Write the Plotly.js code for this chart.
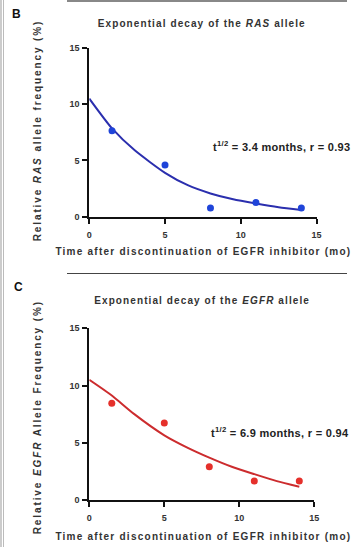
<!DOCTYPE html>
<html>
<head>
<meta charset="utf-8">
<script src="https://cdn.plot.ly/plotly-3.0.1.min.js"></script>
<style>
html,body{margin:0;padding:0;background:#fff;}
#chart{width:360px;height:547px;}
</style>
</head>
<body>
<div id="chart"></div>
<script>
// ---- Data ----
var rasTime = [1.5, 5, 8, 11, 14];
var rasFreq = [7.65, 4.6, 0.77, 1.27, 0.77];
var rasFitTime = [0, 1.5, 3, 5, 6.5, 8, 9.5, 11, 12.5, 14];
var rasFitFreq = [10.5, 7.85, 5.9, 3.9, 2.8, 2.07, 1.55, 1.18, 0.85, 0.6];

var egfrTime = [1.5, 5, 8, 11, 14];
var egfrFreq = [8.46, 6.72, 2.9, 1.65, 1.65];
var egfrFitTime = [0, 1.5, 3, 5, 6.5, 8, 9.5, 11, 12.5, 14];
var egfrFitFreq = [10.5, 9.13, 7.5, 5.65, 4.6, 3.7, 2.9, 2.26, 1.65, 1.16];

var tickValues = [0, 5, 10, 15];
var tickLabels = ['0', '5', '10', '15'];

var W = 360, H = 547;
function px(x){ return x / W; }
function py(y){ return 1 - y / H; }

var blueMarker = '#1f44d9', blueLine = '#2b2fae';
var redMarker = '#e5302b', redLine = '#cc2c2e';
var textCol = '#333333';
var fontFam = 'Liberation Sans, Arial, sans-serif';

var traces = [
  {x: rasFitTime, y: rasFitFreq, xaxis: 'x', yaxis: 'y', mode: 'lines',
   line: {color: blueLine, width: 2, shape: 'spline', smoothing: 0.6}, hoverinfo: 'skip', cliponaxis: false},
  {x: rasTime, y: rasFreq, xaxis: 'x', yaxis: 'y', mode: 'markers',
   marker: {color: blueMarker, size: 7}, cliponaxis: false},
  {x: egfrFitTime, y: egfrFitFreq, xaxis: 'x2', yaxis: 'y2', mode: 'lines',
   line: {color: redLine, width: 2, shape: 'spline', smoothing: 0.6}, hoverinfo: 'skip', cliponaxis: false},
  {x: egfrTime, y: egfrFreq, xaxis: 'x2', yaxis: 'y2', mode: 'markers',
   marker: {color: redMarker, size: 7}, cliponaxis: false}
];

function axisBase(){
  return {
    range: [0, 15], tickmode: 'array', tickvals: tickValues, ticktext: tickLabels,
    showline: true, linecolor: '#111', linewidth: 2,
    ticks: 'outside', ticklen: 5, tickwidth: 2, tickcolor: '#111',
    showgrid: false, zeroline: false, fixedrange: true,
    tickfont: {family: fontFam, size: 9, color: textCol, weight: 'bold'}
  };
}

var xa = axisBase(); xa.domain = [px(89.3), px(316.5)]; xa.anchor = 'y'; xa.ticklabelstandoff = 3;
var ya = axisBase(); ya.domain = [py(216.7), py(48)]; ya.anchor = 'x'; ya.ticklabelstandoff = 1;
var xa2 = axisBase(); xa2.domain = [px(89.3), px(314.3)]; xa2.anchor = 'y2'; xa2.ticklabelstandoff = 3;
var ya2 = axisBase(); ya2.domain = [py(500), py(328.3)]; ya2.anchor = 'x2'; ya2.ticklabelstandoff = 1;

var titleFont = {family: fontFam, size: 10, color: textCol, weight: 'bold'};
var annFont = {family: fontFam, size: 11, color: '#222', weight: 'bold'};

var annotations = [
  // spaced texts first (indices 0-5)
  {text: 'Exponential decay of the <i>RAS</i> allele', x: px(202), y: py(24), xref: 'paper', yref: 'paper',
   xanchor: 'center', yanchor: 'middle', showarrow: false, font: titleFont},
  {text: 'Relative <i>RAS</i> allele frequency (%)', x: px(37), y: py(131), xref: 'paper', yref: 'paper',
   xanchor: 'center', yanchor: 'middle', showarrow: false, textangle: -90, font: titleFont},
  {text: 'Time after discontinuation of EGFR inhibitor (mo)', x: px(203), y: py(251.7), xref: 'paper', yref: 'paper',
   xanchor: 'center', yanchor: 'middle', showarrow: false, font: titleFont},
  {text: 'Exponential decay of the <i>EGFR</i> allele', x: px(202), y: py(300.7), xref: 'paper', yref: 'paper',
   xanchor: 'center', yanchor: 'middle', showarrow: false, font: titleFont},
  {text: 'Relative <i>EGFR</i> Allele Frequency (%)', x: px(37), y: py(417), xref: 'paper', yref: 'paper',
   xanchor: 'center', yanchor: 'middle', showarrow: false, textangle: -90, font: titleFont},
  {text: 'Time after discontinuation of EGFR inhibitor (mo)', x: px(203), y: py(536.7), xref: 'paper', yref: 'paper',
   xanchor: 'center', yanchor: 'middle', showarrow: false, font: titleFont},
  // fit statistics
  {text: 't<sup>1/2</sup> = 3.4 months, r = 0.93', x: px(215), y: py(146), xref: 'paper', yref: 'paper',
   xanchor: 'left', yanchor: 'middle', showarrow: false, font: annFont},
  {text: 't<sup>1/2</sup> = 6.9 months, r = 0.94', x: px(213), y: py(431.7), xref: 'paper', yref: 'paper',
   xanchor: 'left', yanchor: 'middle', showarrow: false, font: annFont},
  // panel letters
  {text: 'B', x: px(16), y: py(14), xref: 'paper', yref: 'paper', xanchor: 'center', yanchor: 'middle',
   showarrow: false, font: {family: fontFam, size: 12, color: '#111', weight: 'bold'}},
  {text: 'C', x: px(18), y: py(287), xref: 'paper', yref: 'paper', xanchor: 'center', yanchor: 'middle',
   showarrow: false, font: {family: fontFam, size: 12, color: '#111', weight: 'bold'}}
];

var shapes = [
  {type: 'line', xref: 'paper', yref: 'paper', x0: px(67), x1: px(347), y0: py(1), y1: py(1),
   line: {color: '#888', width: 2}},
  {type: 'line', xref: 'paper', yref: 'paper', x0: px(67), x1: px(347), y0: py(273.5), y1: py(273.5),
   line: {color: '#444', width: 1}},
  {type: 'line', xref: 'paper', yref: 'paper', x0: px(1), x1: px(1), y0: 0, y1: 1,
   line: {color: '#999', width: 1}},
  {type: 'line', xref: 'paper', yref: 'paper', x0: px(3.5), x1: px(3.5), y0: 0, y1: 1,
   line: {color: '#bbb', width: 1}}
];

var layout = {
  width: W, height: H, margin: {l: 0, r: 0, t: 0, b: 0},
  paper_bgcolor: '#fff', plot_bgcolor: '#fff', showlegend: false,
  font: {family: fontFam},
  xaxis: xa, yaxis: ya, xaxis2: xa2, yaxis2: ya2,
  annotations: annotations, shapes: shapes
};

Plotly.newPlot('chart', traces, layout, {displayModeBar: false, staticPlot: true}).then(function(){
  var spacing = [1.1, 1.9, 1.25, 1.1, 1.9, 1.25, 0.3, 0.3];
  var anns = document.querySelectorAll('#chart .annotation');
  for (var i = 0; i < spacing.length && i < anns.length; i++) {
    var t = anns[i].querySelector('text');
    if (t) t.style.letterSpacing = spacing[i] + 'px';
  }
});
</script>
</body>
</html>
